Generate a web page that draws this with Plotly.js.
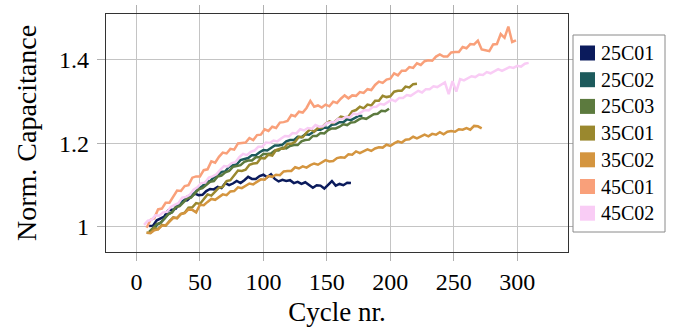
<!DOCTYPE html>
<html>
<head>
<meta charset="utf-8">
<script src="https://cdn.plot.ly/plotly-3.0.1.min.js"></script>
<style>html,body{margin:0;padding:0;background:#fff}#chart{width:673px;height:327px}</style>
</head>
<body>
<div id="chart"></div>
<script>
// Series names (legend order) and colours
const seriesNames = ["25C01", "25C02", "25C03", "35C01", "35C02", "45C01", "45C02"];
const seriesColors = ["#0b1b5c", "#1d5a5c", "#5c7a3e", "#9a882e", "#d4953f", "#f9a07a", "#f9ccf5"];

// First cycle of each series and sampling step (cycles)
const cycleStart = [10, 10, 10, 8, 8, 8, 6];
const cycleStep = 3;

// Normalised capacitance values
const v25C01 = [1.002,1.003,1.016,1.020,1.025,1.040,1.041,1.044,1.058,1.063,
  1.064,1.072,1.080,1.076,1.077,1.086,1.091,1.090,1.096,1.093,
  1.105,1.100,1.104,1.110,1.105,1.112,1.120,1.115,1.115,1.122,
  1.125,1.119,1.126,1.115,1.109,1.113,1.110,1.112,1.105,1.108,
  1.103,1.107,1.100,1.094,1.100,1.099,1.092,1.102,1.110,1.099,
  1.103,1.100,1.106,1.105];
const v25C02 = [0.987,0.991,1.005,1.010,1.020,1.031,1.035,1.048,1.057,1.061,
  1.073,1.076,1.082,1.093,1.098,1.108,1.110,1.119,1.123,1.132,
  1.133,1.144,1.148,1.150,1.160,1.162,1.165,1.172,1.172,1.179,
  1.184,1.183,1.189,1.195,1.195,1.197,1.205,1.208,1.208,1.216,
  1.215,1.222,1.221,1.227,1.233,1.233,1.238,1.237,1.245,1.246,
  1.251,1.251,1.258,1.256,1.262,1.266,1.266];
const v25C03 = [0.988,0.997,1.007,1.010,1.020,1.030,1.035,1.047,1.050,1.060,
  1.068,1.070,1.081,1.090,1.093,1.100,1.108,1.110,1.121,1.123,
  1.131,1.134,1.144,1.146,1.148,1.156,1.159,1.159,1.167,1.167,
  1.175,1.175,1.176,1.183,1.183,1.190,1.188,1.194,1.196,1.196,
  1.205,1.208,1.209,1.218,1.218,1.225,1.224,1.232,1.236,1.236,
  1.240,1.246,1.244,1.250,1.251,1.257,1.261,1.259,1.264,1.270,
  1.271,1.278,1.277,1.283];
const v35C01 = [0.986,0.986,0.997,0.995,1.005,1.003,1.014,1.023,1.021,1.031,
  1.034,1.046,1.047,1.057,1.055,1.068,1.078,1.075,1.084,1.094,
  1.096,1.110,1.112,1.125,1.135,1.134,1.137,1.149,1.152,1.153,
  1.165,1.164,1.173,1.171,1.184,1.187,1.187,1.199,1.199,1.204,
  1.216,1.215,1.226,1.234,1.228,1.237,1.238,1.247,1.253,1.249,
  1.256,1.264,1.262,1.264,1.277,1.280,1.288,1.284,1.293,1.291,
  1.302,1.302,1.314,1.311,1.313,1.324,1.326,1.326,1.336,1.334,
  1.342,1.343];
const v35C02 = [0.986,0.985,0.992,0.994,1.003,1.004,1.013,1.022,1.021,1.031,
  1.033,1.042,1.041,1.035,1.053,1.052,1.060,1.067,1.065,1.072,
  1.078,1.076,1.085,1.086,1.095,1.093,1.099,1.104,1.102,1.109,
  1.114,1.113,1.122,1.120,1.125,1.124,1.133,1.134,1.134,1.143,
  1.140,1.145,1.142,1.148,1.152,1.149,1.154,1.160,1.157,1.158,
  1.165,1.167,1.166,1.174,1.173,1.181,1.177,1.181,1.186,1.182,
  1.188,1.191,1.190,1.197,1.194,1.200,1.205,1.202,1.209,1.210,
  1.216,1.212,1.217,1.221,1.217,1.223,1.221,1.227,1.222,1.228,
  1.230,1.228,1.234,1.233,1.237,1.233,1.242,1.241,1.236];
const v45C01 = [0.998,1.017,1.021,1.042,1.044,1.058,1.058,1.073,1.087,1.086,
  1.098,1.100,1.118,1.121,1.121,1.136,1.138,1.157,1.154,1.168,
  1.178,1.176,1.187,1.185,1.200,1.201,1.202,1.213,1.208,1.220,
  1.221,1.234,1.230,1.240,1.237,1.250,1.251,1.254,1.268,1.265,
  1.276,1.274,1.285,1.302,1.288,1.291,1.286,1.293,1.289,1.300,
  1.297,1.307,1.315,1.308,1.315,1.314,1.323,1.321,1.330,1.328,
  1.340,1.348,1.345,1.353,1.355,1.368,1.363,1.374,1.374,1.383,
  1.381,1.392,1.388,1.397,1.399,1.398,1.408,1.413,1.408,1.408,
  1.418,1.419,1.419,1.431,1.428,1.438,1.437,1.446,1.425,1.423,
  1.421,1.437,1.438,1.462,1.453,1.480,1.443,1.447];
const v45C02 = [1.005,1.015,1.017,1.028,1.027,1.035,1.036,1.048,1.053,1.057,
  1.070,1.072,1.077,1.089,1.095,1.105,1.106,1.118,1.121,1.126,
  1.137,1.146,1.145,1.153,1.155,1.167,1.175,1.172,1.180,1.183,
  1.192,1.192,1.202,1.201,1.207,1.205,1.212,1.218,1.217,1.225,
  1.224,1.234,1.231,1.237,1.235,1.244,1.240,1.241,1.249,1.251,
  1.251,1.259,1.258,1.264,1.262,1.272,1.269,1.275,1.280,1.279,
  1.287,1.288,1.295,1.293,1.299,1.305,1.301,1.309,1.309,1.316,
  1.314,1.320,1.326,1.322,1.330,1.330,1.337,1.335,1.341,1.346,
  1.318,1.349,1.324,1.354,1.351,1.357,1.361,1.359,1.365,1.364,
  1.371,1.368,1.373,1.378,1.374,1.379,1.383,1.381,1.386,1.384,
  1.391,1.393];

const seriesValues = [v25C01, v25C02, v25C03, v35C01, v35C02, v45C01, v45C02];

// Tick labels
const xTicks = [0, 50, 100, 150, 200, 250, 300];
const yTicks = [1, 1.2, 1.4];
const yTickText = ["1", "1.2", "1.4"];

const FONT = "Liberation Serif, Times New Roman, serif";
const W = 673, H = 327;
const M = {l: 106, r: 105, t: 14, b: 75};
const PW = W - M.l - M.r, PH = H - M.t - M.b;
const px2x = px => (px - M.l) / PW;
const py2y = py => (H - M.b - py) / PH;

const traces = seriesValues.map((vals, i) => ({
  type: "scatter", mode: "lines",
  x: vals.map((_, k) => cycleStart[i] + k * cycleStep), y: vals,
  name: seriesNames[i], hoverinfo: "skip",
  line: {color: seriesColors[i], width: 2.5}
}));

// Legend drawn as a boxed list of filled squares + labels (as in the original)
const LEG = {left: 573, right: 665, top: 35, bottom: 232, first: 53, gap: 26.7, sq: 15, sqLeft: 580, textLeft: 599};
const shapes = [{
  type: "rect", xref: "paper", yref: "paper", layer: "above",
  x0: px2x(LEG.left), x1: px2x(LEG.right), y0: py2y(LEG.bottom), y1: py2y(LEG.top),
  line: {color: "#8a8a8a", width: 1}, fillcolor: "#fff"
}];
const annotations = [];
seriesNames.forEach((n, i) => {
  const cy = LEG.first + i * LEG.gap;
  shapes.push({
    type: "rect", xref: "paper", yref: "paper", layer: "above",
    x0: px2x(LEG.sqLeft), x1: px2x(LEG.sqLeft + LEG.sq),
    y0: py2y(cy + LEG.sq / 2), y1: py2y(cy - LEG.sq / 2),
    line: {width: 0}, fillcolor: seriesColors[i]
  });
  annotations.push({
    xref: "paper", yref: "paper", x: px2x(LEG.textLeft), y: py2y(cy),
    xanchor: "left", yanchor: "middle", showarrow: false, text: n,
    font: {family: FONT, size: 20, color: "#000"}
  });
});

const layout = {
  width: W, height: H,
  margin: Object.assign({autoexpand: false}, M),
  paper_bgcolor: "#fff", plot_bgcolor: "#fff",
  font: {family: FONT, color: "#000"},
  showlegend: false,
  xaxis: {
    range: [-24, 340], tickvals: xTicks, ticktext: xTicks.map(String),
    showgrid: true, gridcolor: "#c4c4c4", gridwidth: 1, zeroline: false,
    showline: true, mirror: "ticks", linecolor: "#333", linewidth: 1.3,
    ticks: "outside", ticklen: 8, tickcolor: "#b0b0b0", tickwidth: 1,
    tickfont: {family: FONT, size: 24, color: "#000"},
    ticklabelstandoff: 0,
    title: {text: "Cycle nr.", font: {family: FONT, size: 27, color: "#000"}, standoff: 11}
  },
  yaxis: {
    range: [0.94, 1.51], tickvals: yTicks, ticktext: yTickText,
    showgrid: true, gridcolor: "#c4c4c4", gridwidth: 1, zeroline: false,
    showline: true, mirror: "ticks", linecolor: "#333", linewidth: 1.3,
    ticks: "outside", ticklen: 8, tickcolor: "#b0b0b0", tickwidth: 1,
    tickfont: {family: FONT, size: 24, color: "#000"},
    ticklabelstandoff: 3,
    title: {text: "Norm. Capacitance", font: {family: FONT, size: 28, color: "#000"}, standoff: 14}
  },
  shapes: shapes,
  annotations: annotations
};

Plotly.newPlot("chart", traces, layout, {staticPlot: true, displayModeBar: false});
</script>
</body>
</html>
